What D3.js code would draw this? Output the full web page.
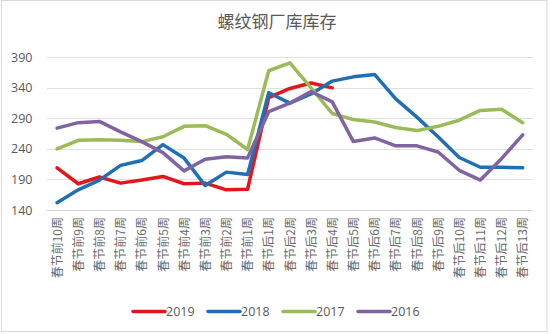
<!DOCTYPE html>
<html>
<head>
<meta charset="utf-8">
<script src="https://cdn.jsdelivr.net/npm/d3@7/dist/d3.min.js"></script>
<style>
  html, body { margin: 0; padding: 0; background: #fff; }
  svg { display: block; }
</style>
</head>
<body>
<svg id="chart" width="550" height="334"></svg>
<script>
const title = "螺纹钢厂库库存";
const categories = [
  "春节前10周","春节前9周","春节前8周","春节前7周","春节前6周","春节前5周","春节前4周","春节前3周","春节前2周","春节前1周",
  "春节后1周","春节后2周","春节后3周","春节后4周","春节后5周","春节后6周","春节后7周","春节后8周","春节后9周","春节后10周",
  "春节后11周","春节后12周","春节后13周"
];
const yTicks = [140, 190, 240, 290, 340, 390];
const seriesNames = ["2019", "2018", "2017", "2016"];
const values2019 = [209, 183, 194, 184, 189, 195, 183, 184, 173, 174, 324, 339, 348, 340];
const values2018 = [152, 173, 189, 213, 221, 247, 225, 180, 202, 198, 332, 315, 330, 351, 358, 362, 322, 292, 260, 226, 210, 210, 209];
const values2017 = [240, 254, 255, 254, 252, 260, 277, 278, 264, 239, 368, 381, 340, 298, 288, 284, 275, 270, 277, 287, 303, 305, 283];
const values2016 = [274, 283, 285, 268, 252, 234, 204, 223, 227, 225, 301, 315, 334, 317, 252, 258, 245, 245, 235, 205, 189, 224, 263];
const colors = ["#E3161B", "#1F6FB5", "#9BBB59", "#8064A2"];

const allSeries = [values2019, values2018, values2017, values2016];

const svg = d3.select("#chart");
const W = 550, H = 334;
const margin = { left: 46.5, right: 550 - 533.3, top: 57.3, bottom: 334 - 210 };

// outer border
svg.append("rect")
  .attr("x", 1.5).attr("y", 0.5)
  .attr("width", 545.5).attr("height", 331)
  .attr("fill", "#fff").attr("stroke", "#d9d9d9").attr("stroke-width", 1);

// title
svg.append("text")
  .attr("x", 277).attr("y", 28)
  .attr("text-anchor", "middle")
  .attr("font-family", "'Noto Sans CJK SC', sans-serif")
  .attr("font-size", 17)
  .attr("fill", "#595959")
  .text(title);

const x = d3.scalePoint()
  .domain(categories)
  .range([margin.left, W - margin.right])
  .padding(0.5);

const y = d3.scaleLinear()
  .domain([140, 390])
  .range([H - margin.bottom, margin.top]);

// gridlines
svg.append("g")
  .selectAll("line")
  .data(yTicks)
  .join("line")
  .attr("x1", margin.left).attr("x2", W - margin.right)
  .attr("y1", d => Math.round(y(d)) + 0.5).attr("y2", d => Math.round(y(d)) + 0.5)
  .attr("stroke", d => d === 140 ? "#d0d0d0" : "#e0e0e0")
  .attr("stroke-width", 1);

// y axis
const yAxis = d3.axisLeft(y).tickValues(yTicks).tickSize(0).tickPadding(14);
const gy = svg.append("g")
  .attr("transform", `translate(${margin.left},0)`)
  .call(yAxis);
gy.select(".domain").remove();
gy.selectAll("text")
  .attr("font-family", "'Open Sans', 'DejaVu Sans', sans-serif")
  .attr("font-size", 12.5)
  .attr("fill", "#595959");

// x axis
const xAxis = d3.axisBottom(x).tickSize(0).tickPadding(0);
const gx = svg.append("g")
  .attr("transform", `translate(0,${H - margin.bottom})`)
  .call(xAxis);
gx.select(".domain").remove();
gx.selectAll("text")
  .attr("font-family", "'Noto Sans CJK SC', sans-serif")
  .attr("font-size", 12)
  .attr("fill", "#6a6a6a")
  .attr("text-anchor", "end")
  .attr("dy", "0.35em")
  .attr("transform", "translate(0,7) rotate(-90)")
  .attr("x", 0).attr("y", 0);

// lines
const line = d3.line()
  .x((d, i) => x(categories[i]))
  .y(d => y(d));

allSeries.forEach((vals, si) => {
  svg.append("path")
    .datum(vals)
    .attr("d", line)
    .attr("fill", "none")
    .attr("stroke", colors[si])
    .attr("stroke-width", 3.5)
    .attr("stroke-linejoin", "round")
    .attr("stroke-linecap", "round");
});

// legend
const legendX = [133, 208, 283, 358];
const legendY = 311.5;
const lg = svg.append("g");
seriesNames.forEach((name, i) => {
  lg.append("line")
    .attr("x1", legendX[i]).attr("x2", legendX[i] + 32)
    .attr("y1", legendY).attr("y2", legendY)
    .attr("stroke", colors[i]).attr("stroke-width", 3.5)
    .attr("stroke-linecap", "round");
  lg.append("text")
    .attr("x", legendX[i] + 33).attr("y", legendY)
    .attr("dy", "0.36em")
    .attr("font-family", "'Open Sans', 'DejaVu Sans', sans-serif")
    .attr("font-size", 12.5)
    .attr("fill", "#595959")
    .text(name);
});
</script>
</body>
</html>
